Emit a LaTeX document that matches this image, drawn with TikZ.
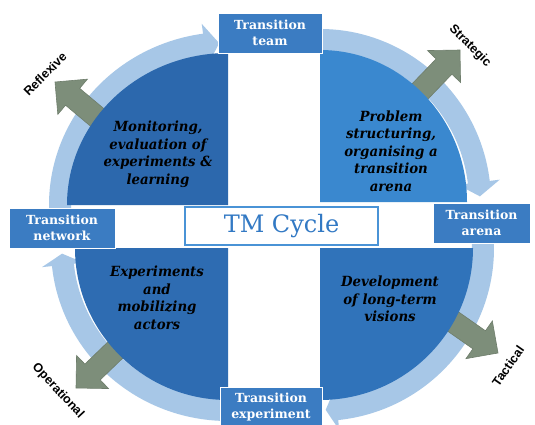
\documentclass[tikz,border=0pt]{standalone}
\usepackage{fontspec}
\setmainfont{DejaVu Serif}
\newfontfamily\boxfont{DejaVu Serif}
\newfontfamily\quadfont{DejaVu Serif}[FakeStretch=0.95]
\newfontfamily\labelfont{Liberation Sans}

\definecolor{bandblue}{HTML}{A7C7E7}
\definecolor{tlblue}{HTML}{2C68AD}
\definecolor{trblue}{HTML}{3A88CF}
\definecolor{blblue}{HTML}{2E6CB2}
\definecolor{brblue}{HTML}{3073BA}
\definecolor{boxblue}{HTML}{3B7CC2}
\definecolor{arrowgrey}{HTML}{7D8E7A}
\definecolor{arrowedge}{HTML}{6E7D6B}
\definecolor{cycleblue}{HTML}{3279C4}
\definecolor{cycleframe}{HTML}{4A93D6}

% light curved band with an arrow head:
% centre x, centre y, x radius, y radius, start angle, shaft end angle, tip angle
\newcommand\cycleband[7]{%
  \begin{scope}[shift={(#1,#2)}]
    \fill[bandblue]
      (#5:{#3+11} and {#4+11})
      arc[start angle=#5, end angle=#6, x radius={#3+11}, y radius={#4+11}]
      -- (#6:{#3+21} and {#4+21})
      -- (#7:{#3} and {#4})
      -- (#6:{#3-21} and {#4-21})
      -- (#6:{#3-11} and {#4-11})
      arc[start angle=#6, end angle=#5, x radius={#3-11}, y radius={#4-11}]
      -- cycle;
  \end{scope}}

% grey block arrow: tip x, tip y, direction
\newcommand\levelpointer[3]{%
  \begin{scope}[shift={(#1,#2)}, rotate=#3]
    \filldraw[greyarrow] (0,0) -- (-23,23) -- (-23,11) -- (-75,11)
      -- (-75,-11) -- (-23,-11) -- (-23,-23) -- cycle;
  \end{scope}}

\begin{document}
\begin{tikzpicture}[x=1pt, y=1pt,
  greyarrow/.style={fill=arrowgrey, draw=arrowedge, line width=0.6pt, line join=miter},
  stagebox/.style={fill=boxblue, draw=white, line width=0.8pt, text=white,
    font=\boxfont\bfseries\fontsize{12.5}{16.5}\selectfont, align=center, inner sep=0pt},
  stagetext/.style={font=\quadfont\bfseries\itshape\fontsize{14}{17.5}\selectfont,
    align=center, text=black},
  levellabel/.style={font=\labelfont\bfseries\fontsize{12.5}{13}\selectfont, inner sep=0pt},
  cyclebox/.style={fill=white, draw=cycleframe, line width=1.6pt, text=cycleblue,
    font=\fontsize{24}{27}\selectfont, inner sep=0pt}
]
\useasboundingbox (0,0) rectangle (535,-425);
\fill[white] (0,0) rectangle (535,-425);

% circulating bands
\cycleband{228}{-205}{168}{162}{182}{98}{93}
\cycleband{320}{-202}{160}{162}{92}{7}{2}
\cycleband{320}{-248}{163}{162}{2}{-84}{-88}
\cycleband{228}{-248}{166}{162}{268}{186}{182}

% outward level arrows
\levelpointer{55}{-82}{140}
\levelpointer{460}{-50}{46}
\levelpointer{498}{-353}{-35}
\levelpointer{76}{-388}{224}

% quarter sectors
\fill[tlblue] (228,-205) -- ++(-161,0)
  arc[start angle=180, end angle=90, x radius=161, y radius=152] -- cycle;
\fill[trblue] (320,-202) -- ++(0,152)
  arc[start angle=90, end angle=0, x radius=147, y radius=152] -- cycle;
\fill[brblue] (320,-248) -- ++(153,0)
  arc[start angle=0, end angle=-90, x radius=153, y radius=152] -- cycle;
\fill[blblue] (228,-248) -- ++(0,-152)
  arc[start angle=270, end angle=180, x radius=153, y radius=152] -- cycle;

% stage boxes
\node[stagebox, minimum width=104pt, minimum height=40pt] (team) at (270,-33) {Transition\\team};
\node[stagebox, minimum width=97pt, minimum height=40pt] (arena) at (481.5,-223) {Transition\\arena};
\node[stagebox, minimum width=106pt, minimum height=40pt] (network) at (62,-228) {Transition\\network};
\node[stagebox, minimum width=102pt, minimum height=40pt] (experiment) at (271,-407) {Transition\\experiment};

% centre title
\node[cyclebox, minimum width=193pt, minimum height=38pt] (cycle) at (281.5,-226) {TM Cycle};

% activities
\node[stagetext] (monitoring) at (158,-154) {Monitoring,\\evaluation of\\experiments \&\\learning};
\node[stagetext] (problem) at (391,-151) {Problem\\structuring,\\organising a\\transition\\arena};
\node[stagetext] (experiments) at (157,-298) {Experiments\\and\\mobilizing\\actors};
\node[stagetext] (visions) at (390,-299) {Development\\of long-term\\visions};

% level labels
\node[levellabel, rotate=45] (reflexive) at (45,-74) {Reflexive};
\node[levellabel, rotate=-45] (strategic) at (470,-46) {Strategic};
\node[levellabel, rotate=55] (tactical) at (508,-366) {Tactical};
\node[levellabel, rotate=-47] (operational) at (58,-391) {Operational};
\end{tikzpicture}
\end{document}
